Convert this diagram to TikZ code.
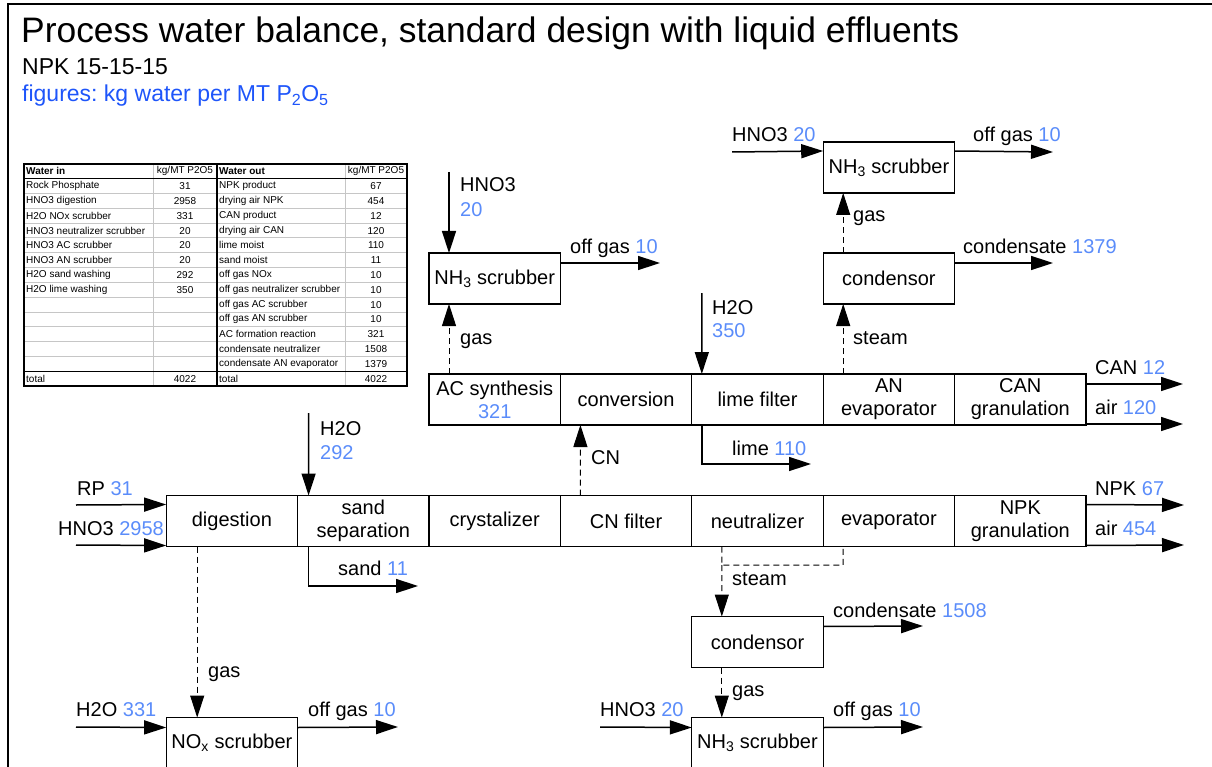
\documentclass[tikz,border=0pt]{standalone}
\usepackage{fontspec}
\setmainfont{Liberation Sans}
\usetikzlibrary{arrows.meta}
\usetikzlibrary{positioning}
\usetikzlibrary{calc}

\definecolor{numblue}{RGB}{90,140,250}
\definecolor{subblue}{RGB}{30,85,250}
\newcommand{\wv}[1]{{\color{numblue}#1}}
\newcommand{\lblfont}{\fontsize{20}{23}\selectfont}
\newcommand{\notefont}{\fontsize{23}{27}\selectfont}
\newcommand{\tabfont}{\fontsize{10}{11}\selectfont}
\frenchspacing

\begin{document}
\begin{tikzpicture}[x=1pt,y=-1pt,>={Triangle[length=22pt,width=14pt]},
    procbox/.style={draw, line width=1.2pt, minimum width=131.4pt, minimum height=51pt,
      inner sep=1pt, outer sep=0pt, align=center, font=\lblfont},
    flow/.style={->, line width=1.5pt},
    vap/.style={line width=1pt, dash pattern=on 6pt off 4pt},
    lbl/.style={font=\lblfont, inner sep=0pt, anchor=base west},
    tabcell/.style={font=\tabfont, inner sep=0pt}]
  \useasboundingbox (0,0) rectangle (1212,767);
  \clip (0,0) rectangle (1212,767);

  \draw[line width=2pt] (7.5,767) -- (7.5,4.5) -- (1212,4.5);

  \node[anchor=base west, inner sep=0pt, font=\fontsize{35.4}{40}\selectfont] (title) at (21,43)
    {Process water balance, standard design with liquid effluents};
  \node[anchor=base west, inner sep=0pt, font=\notefont] (grade) at (22,75) {NPK 15-15-15};
  \node[anchor=base west, inner sep=0pt, font=\notefont, text=subblue] (units) at (22,102)
    {figures: kg water per MT P\textsubscript{2}O\textsubscript{5}};

  % water table
  \foreach \i in {2,...,13}
    \draw[gray!45, line width=1pt] (24,{164+\i*14.8}) -- (407,{164+\i*14.8});
  \draw[gray!45, line width=1pt] (153,164) -- (153,386);
  \draw[gray!45, line width=1pt] (345,164) -- (345,386);
  \draw[line width=0.8pt] (24,178.8) -- (407,178.8);
  \draw[line width=0.8pt] (24,371.2) -- (407,371.2);
  \draw[line width=1.2pt] (217,164) -- (217,386);
  \draw[line width=1.2pt] (24,164) rectangle (407,386);
  \node[tabcell, anchor=west, font=\tabfont\bfseries] at (26,171.4) {Water in};
  \node[tabcell] at (185,171.4) {kg/MT P2O5};
  \node[tabcell, anchor=west, font=\tabfont\bfseries] at (219,171.4) {Water out};
  \node[tabcell] at (376,171.4) {kg/MT P2O5};
  \foreach \t/\v [count=\i] in {Rock Phosphate/31, HNO3 digestion/2958, H2O NOx scrubber/331,
      HNO3 neutralizer scrubber/20, HNO3 AC scrubber/20, HNO3 AN scrubber/20,
      H2O sand washing/292, H2O lime washing/350} {
    \node[tabcell, anchor=west] at (26,{164+(\i+0.5)*14.8}) {\t};
    \node[tabcell] at (185,{164+(\i+0.5)*14.8}) {\v};
  }
  \foreach \t/\v [count=\i] in {NPK product/67, drying air NPK/454, CAN product/12,
      drying air CAN/120, lime moist/110, sand moist/11, off gas NOx/10,
      off gas neutralizer scrubber/10, off gas AC scrubber/10, off gas AN scrubber/10,
      AC formation reaction/321, condensate neutralizer/1508, condensate AN evaporator/1379} {
    \node[tabcell, anchor=west] at (219,{164+(\i+0.5)*14.8}) {\t};
    \node[tabcell] at (376,{164+(\i+0.5)*14.8}) {\v};
  }
  \node[tabcell, anchor=west] at (26,378.6) {total};
  \node[tabcell] at (185,378.6) {4022};
  \node[tabcell, anchor=west] at (219,378.6) {total};
  \node[tabcell] at (376,378.6) {4022};

  % main line
  \node[procbox] (dig) at (231.9,521) {digestion};
  \node[procbox, right=0pt of dig] (sand) {sand\\separation};
  \node[procbox, right=0pt of sand] (cry) {crystalizer};
  \node[procbox, right=0pt of cry] (cnf) {CN filter};
  \node[procbox, right=0pt of cnf] (neu) {neutralizer};
  \node[procbox, right=0pt of neu] (eva) {evaporator};
  \node[procbox, right=0pt of eva] (npkg) {NPK\\granulation};

  % CN line
  \node[procbox] (acs) at (494.7,399.5) {AC synthesis\\\wv{321}};
  \node[procbox, right=0pt of acs] (conv) {conversion};
  \node[procbox, right=0pt of conv] (limef) {lime filter};
  \node[procbox, right=0pt of limef] (ane) {AN\\evaporator};
  \node[procbox, right=0pt of ane] (cang) {CAN\\granulation};

  \node[procbox, above=70pt of acs] (ns1) {NH\textsubscript{3} scrubber};
  \node[procbox, above=70pt of ane] (cd1) {condensor};
  \node[procbox, above=60pt of cd1] (ns2) {NH\textsubscript{3} scrubber};
  \node[procbox, below=70pt of neu] (cd2) {condensor};
  \node[procbox, below=50pt of cd2] (ns3) {NH\textsubscript{3} scrubber};
  \node[procbox, below=171pt of dig] (nox) {NO\textsubscript{x} scrubber};

  \coordinate (hno3a) at (449,172);
  \coordinate (offa) at (660,263);
  \coordinate (hno3b) at (732,152);
  \coordinate (offb) at (1053,152);
  \coordinate (condb) at (1053,263);
  \coordinate (h2ob) at (701.8,293);
  \coordinate (canout) at (1183,384);
  \coordinate (airb) at (1183,424);
  \coordinate (limeout) at (811,464);
  \coordinate (h2oa) at (308.6,413);
  \coordinate (rp) at (76,505);
  \coordinate (hno3d) at (76,545);
  \coordinate (sandout) at (418,586);
  \coordinate (npkout) at (1184,505);
  \coordinate (airn) at (1184,545);
  \coordinate (stj) at (721.8,565);
  \coordinate (conda) at (923,626);
  \coordinate (hno3c) at (600,727);
  \coordinate (offc) at (923,727);
  \coordinate (h2oc) at (76,727);
  \coordinate (offd) at (398,727);

  \draw[flow] (hno3a) -- ([xshift=20pt]ns1.north west);
  \draw[flow] ([yshift=-10pt]ns1.north east) -- (offa);
  \draw[vap,->] ([xshift=20pt]acs.north west) -- ([xshift=20pt]ns1.south west);
  \draw[flow] (hno3b) -- ([yshift=-9pt]ns2.north west);
  \draw[flow] ([yshift=-9pt]ns2.north east) -- (offb);
  \draw[vap,->] ([xshift=20pt]cd1.north west) -- ([xshift=20pt]ns2.south west);
  \draw[flow] ([yshift=-10pt]cd1.north east) -- (condb);
  \draw[vap,->] ([xshift=20pt]ane.north west) -- ([xshift=20pt]cd1.south west);
  \draw[flow] (h2ob) -- ([xshift=10pt]limef.north west);
  \draw[flow] ([yshift=-10pt]cang.north east) -- (canout);
  \draw[flow] ([yshift=1pt]cang.south east) -- (airb);
  \draw[flow] ([xshift=10pt]limef.south west) |- (limeout);
  \draw[vap,->] ([xshift=20pt]cnf.north west) -- ([xshift=20pt]conv.south west);

  \draw[flow] (h2oa) -- ([xshift=11pt]sand.north west);
  \draw[flow] (rp) -- ([yshift=-9pt]dig.north west);
  \draw[flow] (hno3d) -- ([yshift=1pt]dig.south west);
  \draw[flow] ([xshift=11pt]sand.south west) |- (sandout);
  \draw[flow] ([yshift=-9pt]npkg.north east) -- (npkout);
  \draw[flow] ([yshift=1pt]npkg.south east) -- (airn);
  \draw[vap] ([xshift=30pt]neu.south west) -- (stj) -| ([xshift=20pt]eva.south west);
  \draw[vap,->] (stj) -- ([xshift=30pt]cd2.north west);
  \draw[flow] ([yshift=-10pt]cd2.north east) -- (conda);
  \draw[vap,->] ([xshift=30pt]cd2.south west) -- ([xshift=30pt]ns3.north west);
  \draw[flow] (hno3c) -- ([yshift=-10pt]ns3.north west);
  \draw[flow] ([yshift=-10pt]ns3.north east) -- (offc);
  \draw[vap,->] ([xshift=31pt]dig.south west) -- ([xshift=31pt]nox.north west);
  \draw[flow] (h2oc) -- ([yshift=-10pt]nox.north west);
  \draw[flow] ([yshift=-10pt]nox.north east) -- (offd);

  % stream labels
  \node[lbl] at (460,192) {HNO3};
  \node[lbl] at (460,217) {\wv{20}};
  \node[lbl] at (570,254) {off gas \wv{10}};
  \node[lbl] at (460,344) {gas};
  \node[lbl] at (732,142) {HNO3 \wv{20}};
  \node[lbl] at (973,142) {off gas \wv{10}};
  \node[lbl] at (853,222) {gas};
  \node[lbl] at (963,254) {condensate \wv{1379}};
  \node[lbl] at (853,344) {steam};
  \node[lbl] at (712,314) {H2O};
  \node[lbl] at (712,337) {\wv{350}};
  \node[lbl] at (1095,374) {CAN \wv{12}};
  \node[lbl] at (1095,414) {air \wv{120}};
  \node[lbl] at (732,455) {lime \wv{110}};
  \node[lbl] at (591,464) {CN};
  \node[lbl] at (320,435) {H2O};
  \node[lbl] at (320,459) {\wv{292}};
  \node[lbl] at (77,495) {RP \wv{31}};
  \node[lbl, anchor=base east] at (164,535) {HNO3 \wv{2958}};
  \node[lbl] at (338,575) {sand \wv{11}};
  \node[lbl] at (1095,495) {NPK \wv{67}};
  \node[lbl] at (1095,535) {air \wv{454}};
  \node[lbl] at (732,585) {steam};
  \node[lbl] at (833,617) {condensate \wv{1508}};
  \node[lbl] at (732,696) {gas};
  \node[lbl] at (600,716) {HNO3 \wv{20}};
  \node[lbl] at (833,716) {off gas \wv{10}};
  \node[lbl] at (208,677) {gas};
  \node[lbl] at (76,716) {H2O \wv{331}};
  \node[lbl] at (308,716) {off gas \wv{10}};
\end{tikzpicture}
\end{document}
